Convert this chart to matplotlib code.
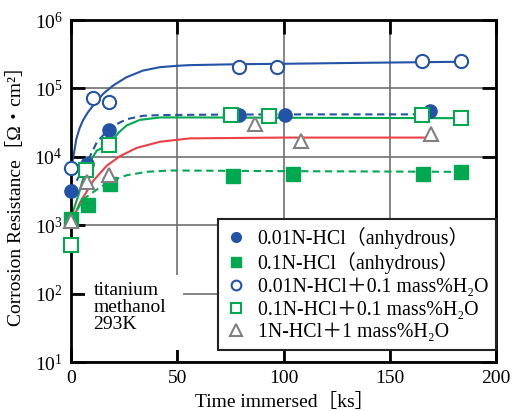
import matplotlib
matplotlib.use("Agg")
import matplotlib.pyplot as plt
from matplotlib.patches import Rectangle
from matplotlib.ticker import LogLocator, LogFormatterMathtext, NullLocator

plt.rcParams['font.family'] = ['Liberation Serif', 'Noto Sans CJK JP']
plt.rcParams['mathtext.fontset'] = 'stix'

# ---- measured points (time in ks, resistance in ohm*cm^2) ----
t_c01 = [0, 7.4, 18, 79, 100.7, 169]
r_c01 = [3140, 7900, 25000, 41500, 41500, 46500]

t_s01 = [0, 7.8, 18.4, 76, 104.6, 165.8, 183.5]
r_s01 = [1230, 2000, 4030, 5200, 5600, 5600, 6000]

t_oc = [0, 10.5, 18, 79, 97, 165, 183.4]
r_oc = [6900, 73600, 63000, 209000, 209000, 248000, 248000]

t_os = [0, 7, 18, 75.3, 93.3, 165.3, 183.4]
r_os = [520, 6500, 15000, 41500, 39500, 41500, 37500]

t_tri = [0, 7.4, 18, 86.6, 108, 169.4]
r_tri = [1170, 4300, 5500, 29900, 17000, 21500]

# ---- trend curves ----
t_blue = [0, 1.2, 2.5, 4.0, 5.6, 7.8, 10.4, 15.1, 19.8, 26, 33.8, 41.7, 50, 56, 80, 100, 140, 183]
r_blue = [6900, 10400, 18200, 26000, 33900, 44000, 56200, 83200, 110000, 145000, 182000,
          204000, 214000, 219000, 226000, 229000, 237000, 245000]

t_blue_d = [0, 3.5, 7.4, 12.1, 18.4, 26.2, 34, 41.8, 60, 100, 165]
r_blue_d = [3160, 5000, 8100, 16200, 26900, 35500, 39800, 40700, 41200, 41700, 41700]

t_green = [0, 3.4, 7.1, 12.1, 18, 22.3, 26.2, 32.5, 41.9, 60, 100, 183]
r_green = [1290, 2690, 6760, 12300, 15100, 22400, 28800, 34700, 37600, 37600, 37200, 36700]

t_red = [0, 4.2, 10.5, 16.8, 23, 30.9, 41.9, 56, 100, 167]
r_red = [1070, 2140, 4470, 7400, 10200, 13500, 16600, 18600, 19100, 19100]

t_green_d = [0, 5.8, 12.1, 18.4, 26.2, 35.6, 46.6, 100, 183]
r_green_d = [1170, 2400, 3310, 4420, 5370, 6030, 6310, 6170, 6030]

x_ticks = [0, 50, 100, 150, 200]
legend_labels = [
    "0.01N-HCl（anhydrous）",
    "0.1N-HCl（anhydrous）",
    "0.01N-HCl＋0.1 mass%H₂O",
    "0.1N-HCl＋0.1 mass%H₂O",
    "1N-HCl＋1 mass%H₂O",
]

BLUE = "#2353a6"
GREEN = "#00a94f"
RED = "#ec4045"
GRAY = "#808080"

fig = plt.figure(figsize=(5.12, 4.11), dpi=100)
ax = fig.add_axes([71 / 512, 1 - 362 / 411, 425 / 512, 342 / 411])

ax.set_yscale('log')
ax.set_xlim(0, 200)
ax.set_ylim(10, 1e6)
ax.set_xticks(x_ticks)
ax.yaxis.set_major_locator(LogLocator(base=10, numticks=10))
ax.yaxis.set_major_formatter(LogFormatterMathtext())
ax.yaxis.set_minor_locator(NullLocator())
ax.grid(True, which='major', color='#707070', linewidth=1.2, zorder=0)
ax.set_axisbelow(True)
for s in ax.spines.values():
    s.set_linewidth(2.0)
ax.tick_params(which='major', direction='in', length=10, width=2,
               top=True, right=True, labelsize=14, pad=6)

lw = 1.5
ax.plot(t_blue, r_blue, color=BLUE, lw=lw, zorder=2)
ax.plot(t_blue_d, r_blue_d, color=BLUE, lw=lw, ls=(0, (3.5, 2.2)), zorder=2)
ax.plot(t_green, r_green, color=GREEN, lw=lw, zorder=2)
ax.plot(t_red, r_red, color=RED, lw=lw, zorder=2)
ax.plot(t_green_d, r_green_d, color=GREEN, lw=lw, ls=(0, (3.5, 2.2)), zorder=2)

ms = 9.5
ax.plot(t_c01, r_c01, 'o', ms=ms, color=BLUE, mec=BLUE, clip_on=False, zorder=3)
ax.plot(t_s01, r_s01, 's', ms=ms, color=GREEN, mec=GREEN, clip_on=False, zorder=4)
ax.plot(t_oc, r_oc, 'o', ms=ms, mfc='white', mec=BLUE, mew=1.5, clip_on=False, zorder=5)
ax.plot(t_os, r_os, 's', ms=ms, mfc='white', mec=GREEN, mew=1.5, clip_on=False, zorder=6)
ax.plot(t_tri, r_tri, '^', ms=ms + 1, mfc='white', mec=GRAY, mew=1.5, clip_on=False, zorder=7)

# legend
handles = [
    plt.Line2D([], [], marker='o', ls='none', ms=7, color=BLUE),
    plt.Line2D([], [], marker='s', ls='none', ms=7, color=GREEN),
    plt.Line2D([], [], marker='o', ls='none', ms=7, mfc='white', mec=BLUE, mew=1.5),
    plt.Line2D([], [], marker='s', ls='none', ms=7, mfc='white', mec=GREEN, mew=1.5),
    plt.Line2D([], [], marker='^', ls='none', ms=8, mfc='white', mec=GRAY, mew=1.5),
]
leg = ax.legend(handles, legend_labels, loc='lower right',
                bbox_to_anchor=(1.0, 0.035), fontsize=14.3, frameon=True,
                fancybox=False, edgecolor='#222222', framealpha=1,
                handlelength=1.0, handletextpad=0.6, labelspacing=0.18,
                borderpad=0.4, borderaxespad=0.0)
leg.get_frame().set_linewidth(1.5)
leg.set_zorder(10)

# white panel behind the condition note
ax.add_patch(Rectangle((6.6, 15), 46.1, 174, facecolor='white', edgecolor='none', zorder=1))
ax.text(10.5, 150, "titanium\nmethanol\n293K", fontsize=14, ha='left', va='top',
        linespacing=1.0, zorder=8)

ax.set_ylabel("Corrosion Resistance［Ω・cm²］", fontsize=14, labelpad=7)
fig.text(0.555, 0.022, "Time immersed［ks］", fontsize=14, ha='center', va='center')

fig.savefig("out.png", dpi=100)
